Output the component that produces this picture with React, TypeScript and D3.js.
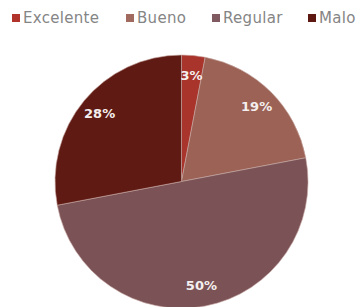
import React, { useEffect, useRef } from "react";
import * as d3 from "d3";

const categories = ["Excelente", "Bueno", "Regular", "Malo"];
const values = [3, 19, 50, 28];
const sliceColors = ["#a9342b", "#9b6255", "#7b5357", "#5f1a13"];
const legendColors = ["#b0342c", "#a06a5e", "#7f5a60", "#5e1812"];

const width = 362;
const height = 307;

export default function App() {
  const ref = useRef<SVGSVGElement | null>(null);

  useEffect(() => {
    const svg = d3.select(ref.current);
    svg.selectAll("*").remove();

    const cx = 181.5,
      cy = 181.5,
      radius = 126.5;

    const data = categories.map((c, i) => ({ name: c, value: values[i], color: sliceColors[i] }));

    const pie = d3
      .pie<any>()
      .sort(null)
      .value((d) => d.value);

    const arc = d3.arc<any>().innerRadius(0).outerRadius(radius);
    const labelArc = d3.arc<any>().innerRadius(radius * 0.84).outerRadius(radius * 0.84);

    const g = svg.append("g").attr("transform", `translate(${cx},${cy})`);

    const arcs = pie(data);

    g.selectAll("path")
      .data(arcs)
      .enter()
      .append("path")
      .attr("d", arc)
      .attr("fill", (d) => d.data.color)
      .attr("stroke", "#c8a8a4")
      .attr("stroke-opacity", 0.6)
      .attr("stroke-width", 1);

    g.selectAll("text.lbl")
      .data(arcs)
      .enter()
      .append("text")
      .attr("class", "lbl")
      .attr("transform", (d) => `translate(${labelArc.centroid(d)})`)
      .attr("text-anchor", "middle")
      .attr("dy", "0.35em")
      .style("font-family", "'DejaVu Sans', sans-serif")
      .style("font-weight", "bold")
      .style("font-size", "13px")
      .attr("fill", "#f4efee")
      .text((d) => d.data.value + "%");

    // legend
    const legendX = [12, 126, 212, 308];
    const lg = svg.append("g");
    categories.forEach((c, i) => {
      lg.append("rect")
        .attr("x", legendX[i])
        .attr("y", 14)
        .attr("width", 8)
        .attr("height", 8)
        .attr("fill", legendColors[i]);
      lg.append("text")
        .attr("x", legendX[i] + 11)
        .attr("y", 23)
        .style("font-family", "'DejaVu Sans', sans-serif")
        .style("font-size", "15px")
        .style("letter-spacing", "0.3px")
        .attr("fill", "#858585")
        .text(c);
    });
  }, []);

  return (
    <svg
      ref={ref}
      width={width}
      height={height}
      style={{ position: "absolute", left: 0, top: 0, background: "#fff" }}
    />
  );
}
